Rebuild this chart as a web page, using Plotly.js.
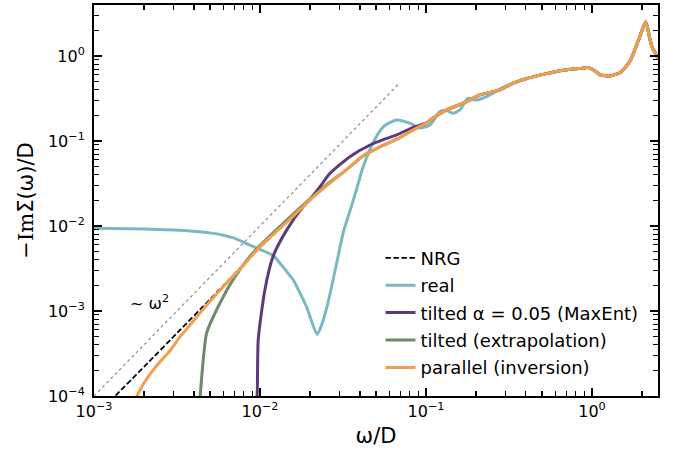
<!DOCTYPE html>
<html>
<head>
<meta charset="utf-8">
<script src="https://cdn.plot.ly/plotly-3.0.1.min.js"></script>
<style>html,body{margin:0;padding:0;background:#fff;}#chart{width:678px;height:452px;}</style>
</head>
<body>
<div id="chart"></div>
<script>
// ---- data ----
// shared high-frequency tail (all curves coincide here)
const omegaTail = [0.1, 0.111, 0.133, 0.176, 0.211, 0.278, 0.336, 0.4, 0.533, 0.671, 0.847, 0.947, 1.0, 1.05, 1.12, 1.22, 1.28, 1.48, 1.69, 1.86, 1.99, 2.11, 2.23, 2.3, 2.5];
const sigmaTail = [0.162, 0.188, 0.232, 0.29, 0.348, 0.40, 0.48, 0.54, 0.62, 0.68, 0.715, 0.73, 0.70, 0.66, 0.60, 0.585, 0.58, 0.64, 0.86, 1.35, 1.93, 2.53, 1.61, 1.29, 0.95];

const omegaNRG = [0.00125, 0.00134, 0.002, 0.00333, 0.005, 0.007, 0.01, 0.015, 0.02, 0.0264, 0.0303, 0.035, 0.0419, 0.0528, 0.0666, 0.0839];
const sigmaNRG = [0.000087, 0.0001, 0.00022, 0.00061, 0.00137, 0.0027, 0.0056, 0.0118, 0.0204, 0.032, 0.04, 0.05, 0.067, 0.085, 0.105, 0.135];

const omegaReal = [0.001, 0.002, 0.003, 0.004, 0.005, 0.006, 0.007, 0.0083, 0.01, 0.012, 0.0145, 0.0159, 0.0175, 0.0191, 0.0205, 0.0221, 0.0235, 0.0258, 0.029, 0.0318, 0.0365, 0.0419, 0.0482, 0.0553, 0.0666, 0.080, 0.092, 0.106, 0.121, 0.133, 0.146, 0.16, 0.179, 0.202, 0.232, 0.278, 0.30, 0.336];
const sigmaReal = [0.0094, 0.0092, 0.0090, 0.0087, 0.0083, 0.0078, 0.0072, 0.0062, 0.0053, 0.0045, 0.0029, 0.0023, 0.0016, 0.00112, 0.00075, 0.00053, 0.00068, 0.0013, 0.0037, 0.0085, 0.02, 0.05, 0.097, 0.147, 0.177, 0.162, 0.142, 0.155, 0.221, 0.228, 0.212, 0.232, 0.318, 0.303, 0.332, 0.405, 0.435, 0.48];

const omegaMaxEnt = [0.00955, 0.00964, 0.00976, 0.0107, 0.012, 0.0145, 0.0182, 0.02, 0.023, 0.0264, 0.0348, 0.046, 0.0553, 0.0666, 0.0839];
const sigmaMaxEnt = [0.00008, 0.00012, 0.00046, 0.00177, 0.0044, 0.009, 0.0169, 0.0205, 0.029, 0.0417, 0.0654, 0.0897, 0.104, 0.118, 0.145];

const omegaExtrap = [0.0043, 0.00436, 0.00477, 0.00574, 0.00687, 0.00871, 0.01, 0.015, 0.02, 0.0264, 0.0303, 0.035, 0.0419, 0.0528, 0.0666, 0.0839];
const sigmaExtrap = [0.00008, 0.0001, 0.00055, 0.00124, 0.00232, 0.0044, 0.0059, 0.0125, 0.0207, 0.033, 0.04, 0.05, 0.067, 0.085, 0.105, 0.135];

const omegaInv = [0.0017, 0.00181, 0.002, 0.00235, 0.0029, 0.0033, 0.00358, 0.00436, 0.005, 0.006, 0.008, 0.01, 0.015, 0.02, 0.0264, 0.0303, 0.035, 0.0419, 0.0528, 0.0666, 0.0839];
const sigmaInv = [0.000085, 0.0001, 0.000142, 0.00022, 0.00035, 0.0005, 0.0006, 0.00095, 0.0013, 0.00193, 0.0035, 0.0057, 0.0118, 0.0202, 0.032, 0.04, 0.05, 0.067, 0.085, 0.105, 0.135];

// ~ω^2 guide line end points
const omegaGuide = [0.001, 0.07];
const sigmaGuide = [0.0001, 0.49];

const xTickVals = [0.001, 0.01, 0.1, 1];
const xTickText = ['10<sup>−3</sup>', '10<sup>−2</sup>', '10<sup>−1</sup>', '10<sup>0</sup>'];
const yTickVals = [0.0001, 0.001, 0.01, 0.1, 1];
const yTickText = ['10<sup>−4</sup>', '10<sup>−3</sup>', '10<sup>−2</sup>', '10<sup>−1</sup>', '10<sup>0</sup>'];

const names = ['NRG', 'real', 'tilted α = 0.05 (MaxEnt)', 'tilted (extrapolation)', 'parallel (inversion)'];
const colors = ['#000000', '#7ab8c4', '#5e3b78', '#72886a', '#f19f4d'];

function withTail(o, s, after) {
  const ox = [], sy = [];
  omegaTail.forEach((w, i) => { if (w > after) { ox.push(w); sy.push(sigmaTail[i]); } });
  return [o.concat(ox), s.concat(sy)];
}

const series = [
  withTail(omegaNRG, sigmaNRG, 0.09),
  withTail(omegaReal, sigmaReal, 0.336),
  withTail(omegaMaxEnt, sigmaMaxEnt, 0.09),
  withTail(omegaExtrap, sigmaExtrap, 0.09),
  withTail(omegaInv, sigmaInv, 0.09)
];

const traces = [{
  x: omegaGuide, y: sigmaGuide, mode: 'lines', showlegend: false, hoverinfo: 'skip',
  line: {color: '#8c8c8c', width: 1.2, dash: 'dot'}
}];
series.forEach((s, i) => {
  traces.push({
    x: s[0], y: s[1], mode: 'lines', name: names[i], legendgroup: 'g' + i,
    line: i === 0 ? {color: colors[i], width: 1.8, dash: '5.5px,2.5px', shape: 'spline', smoothing: 0.6}
                  : {color: colors[i], width: 3, shape: 'spline', smoothing: 0.6}
  });
});

const font = {family: 'DejaVu Sans, sans-serif', color: '#000'};
const axisCommon = {
  type: 'log', showgrid: false, zeroline: false,
  showline: true, linecolor: '#000', linewidth: 2, mirror: 'allticks',
  ticks: 'inside', ticklen: 8, tickwidth: 1.6, tickcolor: '#000',
  tickfont: {family: font.family, size: 16, color: '#000'},
  minor: {ticks: 'inside', ticklen: 5, tickwidth: 1.2, tickcolor: '#000', dtick: 'D1', showgrid: false}
};

const layout = {
  width: 678, height: 452,
  margin: {l: 94, r: 20, t: 5, b: 56},
  paper_bgcolor: '#fff', plot_bgcolor: '#fff',
  font: font,
  showlegend: true,
  legend: {x: 0.508, y: 0.4, xanchor: 'left', yanchor: 'top', bgcolor: 'rgba(0,0,0,0)', borderwidth: 0,
           font: {family: font.family, size: 18, color: '#000'}, tracegroupgap: 1},
  xaxis: Object.assign({}, axisCommon, {
    range: [-3, 0.398], tickmode: 'array', tickvals: xTickVals, ticktext: xTickText,
    title: {text: 'ω/D', font: {family: font.family, size: 21}, standoff: 8}
  }),
  yaxis: Object.assign({}, axisCommon, {
    range: [-4, 0.6], tickmode: 'array', tickvals: yTickVals, ticktext: yTickText, ticklabelstandoff: 4,
    title: {text: '−<span style="font-family:DejaVu Serif">Im</span>Σ(ω)/D', font: {family: font.family, size: 21}, standoff: 9}
  }),
  annotations: [{
    xref: 'paper', yref: 'paper', x: 0.0603, y: 0.24, xanchor: 'left', yanchor: 'middle', showarrow: false,
    text: '~ ω<sup>2</sup>', font: {family: font.family, size: 16, color: '#000'}
  }]
};

Plotly.newPlot('chart', traces, layout, {displayModeBar: false, staticPlot: true});
</script>
</body>
</html>
